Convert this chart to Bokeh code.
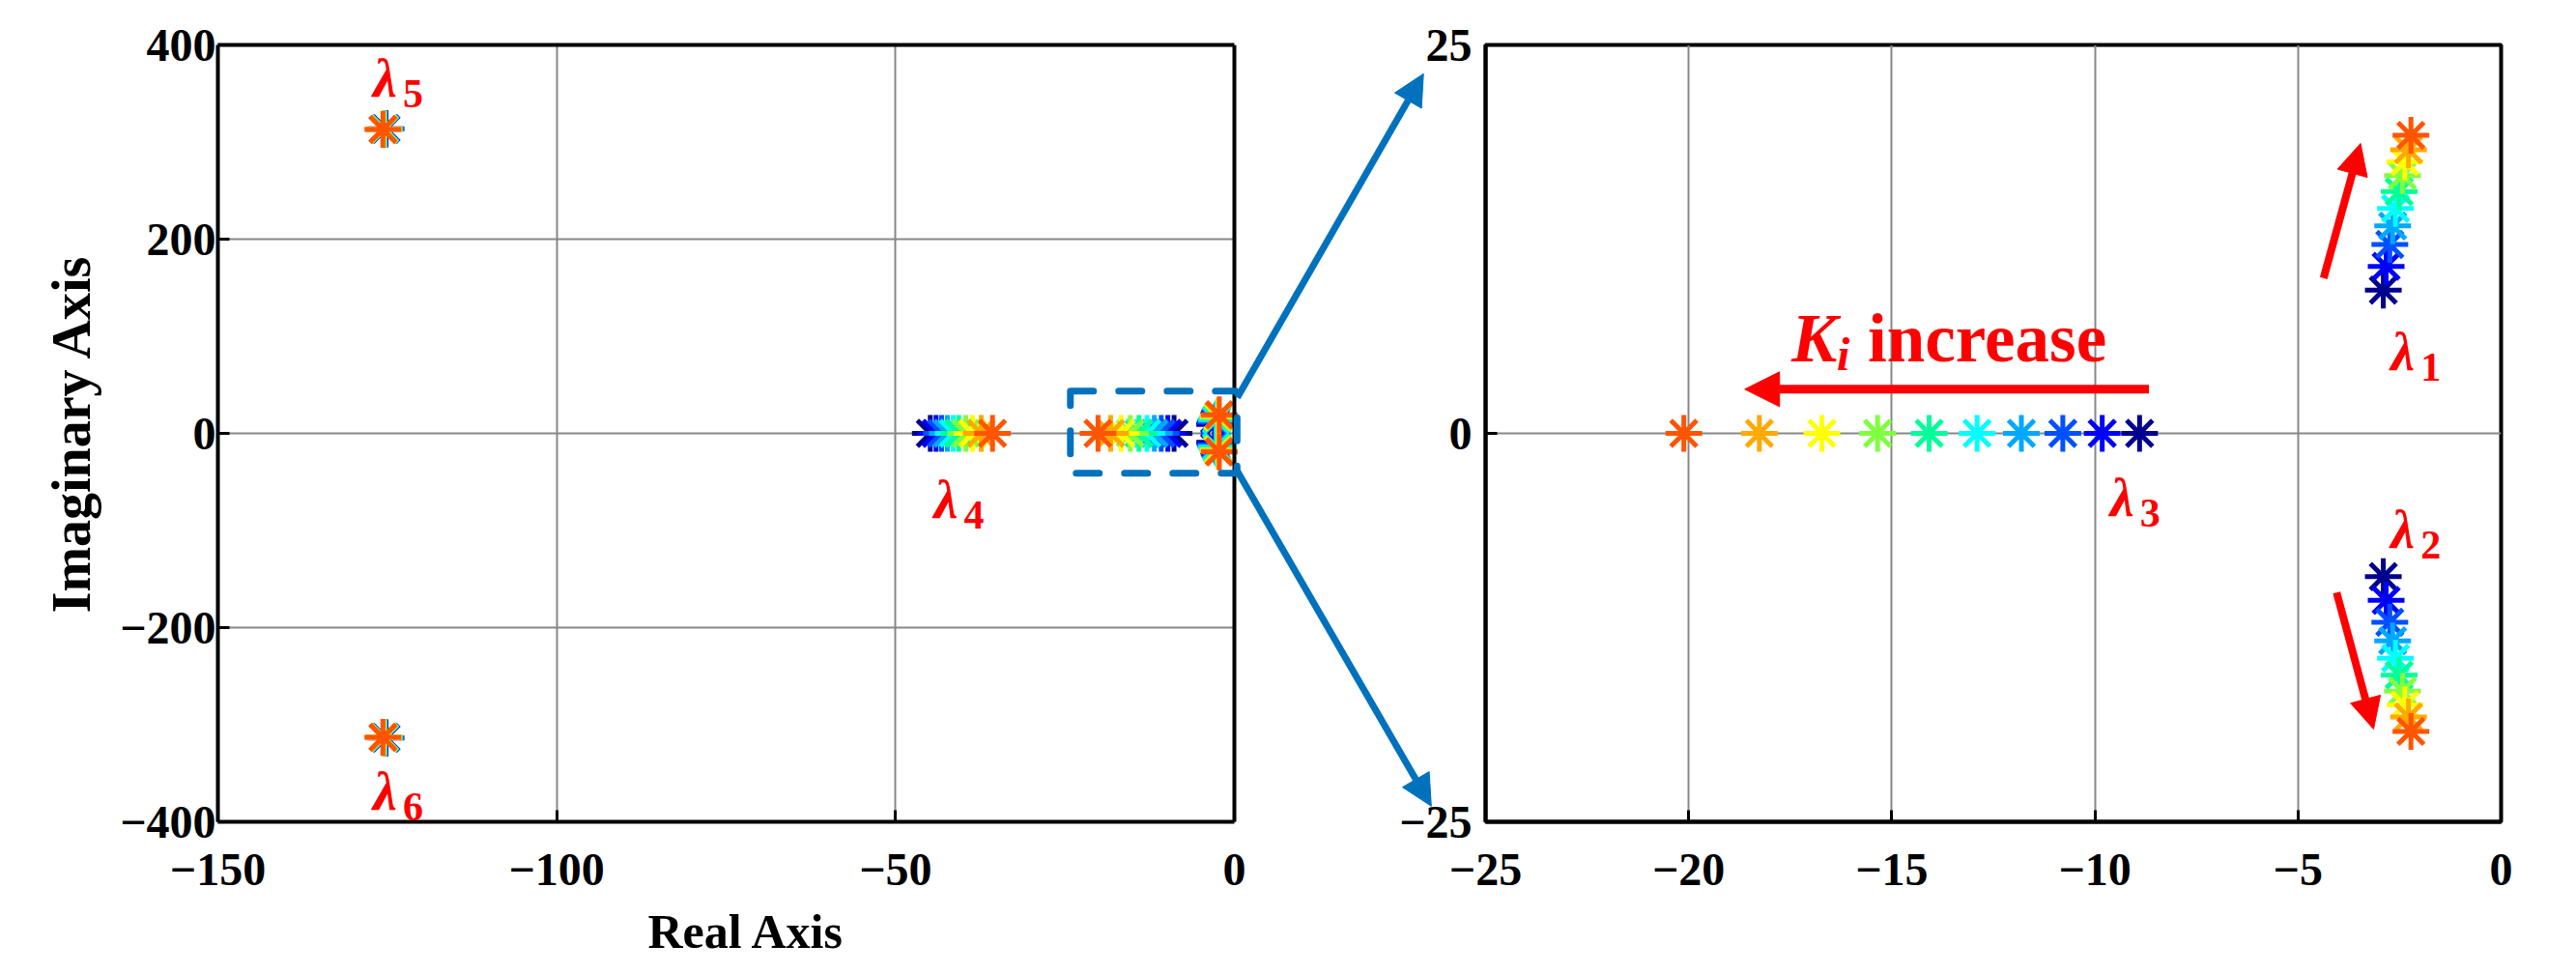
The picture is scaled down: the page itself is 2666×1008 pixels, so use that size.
from bokeh.plotting import figure
from bokeh.models import (Range1d, FixedTicker, Arrow, NormalHead, Label, BoxAnnotation,
                          ColumnDataSource, LinearAxis, Span, Title)
from bokeh.layouts import row
from bokeh.embed import file_html
from bokeh.resources import INLINE

# colours of the Ki sweep (low Ki -> high Ki)
ki_colors = ["#00008F", "#0000FF", "#0050FF", "#00A8FF", "#00FFFF",
             "#00FF99", "#80FF40", "#FFFF00", "#FFAA00", "#FF5500"]
# eigenvalues for each Ki step
lam1_re = [-2.90, -2.83, -2.74, -2.67, -2.60, -2.51, -2.43, -2.37, -2.28, -2.22]
lam1_im = [9.22, 10.75, 12.16, 13.35, 14.47, 15.56, 16.59, 17.48, 18.25, 19.18]
lam3_re = [-8.90, -9.82, -10.79, -11.81, -12.90, -14.08, -15.35, -16.72, -18.26, -20.12]
lam4_re = [-44.87, -44.02, -43.21, -42.36, -41.49, -40.68, -39.64, -38.64, -37.36, -35.69]
lam5_re = [-125.2, -125.25, -125.3, -125.35, -125.4, -125.45, -125.5, -125.55, -125.6, -125.65]
lam5_im = [313.6, 313.5, 313.5, 313.4, 313.3, 313.3, 313.2, 313.1, 313.1, 313.0]

left_x_ticks = [-150, -100, -50, 0]
left_y_ticks = [-400, -200, 0, 200, 400]
right_x_ticks = [-25, -20, -15, -10, -5, 0]
right_y_ticks = [-25, 0, 25]

FONT = "Liberation Serif"
RED = "#FF0000"
BLUE = "#0072BD"
MID = 0.3375  # (ascent - descent) / 2 of the serif font, in em

xs, ys, cs = [], [], []
for k, c in enumerate(ki_colors):
    pts = [(lam1_re[k], lam1_im[k]), (lam1_re[k], -lam1_im[k]),
           (lam3_re[k], 0.0), (lam4_re[k], 0.0),
           (lam5_re[k], lam5_im[k]), (lam5_re[k], -lam5_im[k])]
    for x, y in pts:
        xs.append(x); ys.append(y); cs.append(c)


def fmt(ticks):
    return {v: (str(v).replace("-", "\u2212")) for v in ticks}


def style(p, xt, yt, ystand):
    p.xaxis.ticker = FixedTicker(ticks=xt)
    p.yaxis.ticker = FixedTicker(ticks=yt)
    p.xaxis.major_label_overrides = fmt(xt)
    p.yaxis.major_label_overrides = fmt(yt)
    for ax in p.axis:
        ax.axis_line_color = "black"
        ax.axis_line_width = 4
        ax.major_tick_in = 12
        ax.major_tick_out = 0
        ax.major_tick_line_width = 3
        ax.major_tick_line_color = "black"
        ax.minor_tick_line_color = None
        ax.major_label_text_font = FONT
        ax.major_label_text_font_style = "bold"
        ax.major_label_text_font_size = "48px"
        ax.major_label_text_color = "black"
        ax.axis_label_text_font = FONT
        ax.axis_label_text_font_style = "bold"
        ax.axis_label_text_font_size = "56px"
        ax.axis_label_text_color = "black"
    p.xaxis.major_label_standoff = 33
    p.yaxis.major_label_standoff = ystand
    p.yaxis.axis_label_standoff = 16
    p.grid.grid_line_color = "#878787"
    p.grid.grid_line_width = 2
    p.scatter("x", "y", source=ColumnDataSource(dict(x=xs, y=ys, c=cs)),
              marker="asterisk", size=38, line_color="c", line_width=5)


def txt(p, x, y, text, size, style_, dx=0, dy=0):
    # dy: pixels below the baseline given by (x, y)
    p.add_layout(Label(x=x, y=y, x_offset=dx, y_offset=round(MID * size) - dy, text=text,
                       text_font=FONT, text_font_style=style_, text_font_size=f"{size}px",
                       text_color=RED, text_baseline="middle", text_align="left"))


def lam(p, x, y, sub):
    txt(p, x, y, "\u03bb", 56, "bold italic")
    txt(p, x, y, sub, 42, "bold", dx=31, dy=11)


H = 1006
# ---- left: full root locus ----
# the frame reaches past x = 0 so that the zoom arrows can be drawn in it
p1 = figure(width=1490, height=H, x_range=Range1d(-150, 150 * 213 / 1052), y_range=Range1d(-400, 400),
            y_axis_label="Imaginary Axis",
            min_border_left=225, min_border_right=0, min_border_top=46, min_border_bottom=H - 852,
            output_backend="svg", toolbar_location=None)
p1.outline_line_color = None
style(p1, left_x_ticks, left_y_ticks, 2)
p1.xaxis.bounds = (-150, 0)
p1.ygrid.cross_bounds = (-150, 0)
top_axis = LinearAxis(bounds=(-150, 0), ticker=FixedTicker(ticks=[]), axis_line_width=4,
                      axis_line_color="black", major_tick_line_color=None, minor_tick_line_color=None)
p1.add_layout(top_axis, "above")
p1.add_layout(Span(location=0, dimension="height", line_color="black", line_width=4))
p1.add_layout(Title(text="Real Axis", align="left", offset=445, standoff=30, text_font=FONT,
                    text_font_style="bold", text_font_size="50px", text_color="black"), "below")

lam(p1, -127.1, 346.8, "5")
lam(p1, -127.1, -387.1, "6")
lam(p1, -44.35, -87.3, "4")

p1.add_layout(BoxAnnotation(left=-24.2, right=0.4, top=43.5, bottom=-41.0, fill_alpha=0,
                            line_color=BLUE, line_alpha=1, line_width=7, line_dash="24 26",
                            line_cap="round"))
for ys_, ye_, xe_ in [(36.7, 370.3, 27.91), (-38.7, -383.9, 29.06)]:
    p1.add_layout(Arrow(x_start=0.43, y_start=ys_, x_end=xe_, y_end=ye_,
                        line_color=BLUE, line_width=7,
                        end=NormalHead(size=32, fill_color=BLUE, line_color=BLUE, line_width=1)))

# ---- right: zoom ----
p2 = figure(width=1206, height=H, x_range=Range1d(-25, 0), y_range=Range1d(-25, 25),
            min_border_left=95, min_border_right=60, min_border_top=46, min_border_bottom=H - 853,
            output_backend="svg", toolbar_location=None)
p2.outline_line_color = "black"
p2.outline_line_width = 4
style(p2, right_x_ticks, right_y_ticks, 14)
p2.border_fill_alpha = 0
p2.margin = (0, 0, 0, -48)
lam(p2, -2.72, 4.06, "1")
lam(p2, -2.72, -7.34, "2")
lam(p2, -9.63, -5.30, "3")

# Ki increase annotation
p2.add_layout(Arrow(x_start=-8.67, y_start=2.84, x_end=-18.62, y_end=2.84,
                    line_color=RED, line_width=9,
                    end=NormalHead(size=36, fill_color=RED, line_color=RED, line_width=1)))
txt(p2, -17.47, 4.62, "K", 71, "bold italic")
txt(p2, -17.47, 4.62, "i", 48, "bold italic", dx=47, dy=8)
txt(p2, -15.59, 4.62, "increase", 71, "bold")
for xs_, ys_, xe_, ye_ in [(-4.37, 9.99, -3.46, 18.66), (-4.05, -10.25, -3.14, -19.03)]:
    p2.add_layout(Arrow(x_start=xs_, y_start=ys_, x_end=xe_, y_end=ye_,
                        line_color=RED, line_width=8,
                        end=NormalHead(size=32, fill_color=RED, line_color=RED, line_width=1)))

layout = row(p1, p2)
open("out.html", "w").write(file_html(layout, INLINE))
